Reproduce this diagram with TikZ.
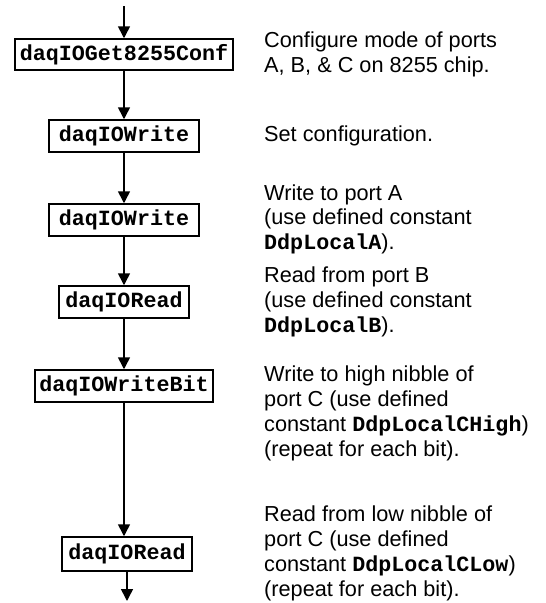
\documentclass[tikz,border=0pt]{standalone}
\usepackage{fontspec}
\setmainfont{Liberation Sans}
\setmonofont{Liberation Mono}
\usetikzlibrary{arrows.meta}
\newcommand{\cw}[1]{{\ttfamily\bfseries #1}}
\begin{document}
\begin{tikzpicture}[x=1pt,y=-1pt,
  fnbox/.style={draw,line width=1.5pt,inner sep=0pt,minimum height=31pt,
    font=\fontsize{21.7pt}{24.7pt}\selectfont\ttfamily\bfseries},
  desc/.style={anchor=base west,align=left,inner sep=0pt,
    font=\fontsize{21.7pt}{24.7pt}\selectfont},
  flow/.style={line width=1.6pt,-{Triangle[length=12pt,width=12pt]}}]
\useasboundingbox (0,0) rectangle (546,603);
\node[fnbox,minimum width=218pt] (b1) at (124,54.5) {daqIOGet8255Conf};
\node[fnbox,minimum width=150pt,minimum height=32pt] (b2) at (124,136) {daqIOWrite};
\node[fnbox,minimum width=150pt,minimum height=32pt] (b3) at (124,220) {daqIOWrite};
\node[fnbox,minimum width=130pt,minimum height=32pt] (b4) at (124,302) {daqIORead};
\node[fnbox,minimum width=178pt,minimum height=32pt] (b5) at (124,386) {daqIOWriteBit};
\node[fnbox,minimum width=130pt,minimum height=34pt] (b6) at (127,554) {daqIORead};
\coordinate (top) at (124,6);
\coordinate (bot) at (127,601);
\draw[flow] (top) -- (b1.north);
\draw[flow] (b1.south) -- (b2.north);
\draw[flow] (b2.south) -- (b3.north);
\draw[flow] (b3.south) -- (b4.north);
\draw[flow] (b4.south) -- (b5.north);
\draw[flow] (b5.south) -- (b5.south |- b6.north);
\draw[flow] (b6.south) -- (bot);
% base anchor = baseline of the last line
\node[desc] (d1) at (264,72.5) {Configure mode of ports\\A, B, \& C on 8255 chip.};
\node[desc] (d2) at (264,141) {Set configuration.};
\node[desc] (d3) at (264,249.5) {Write to port A\\(use defined constant\\\cw{DdpLocalA}).};
\node[desc] (d4) at (264,332) {Read from port B\\(use defined constant\\\cw{DdpLocalB}).};
\node[desc] (d5) at (264,456) {Write to high nibble of\\port C (use defined\\constant \cw{DdpLocalCHigh})\\(repeat for each bit).};
\node[desc] (d6) at (264,596) {Read from low nibble of\\port C (use defined\\constant \cw{DdpLocalCLow})\\(repeat for each bit).};
\end{tikzpicture}
\end{document}
